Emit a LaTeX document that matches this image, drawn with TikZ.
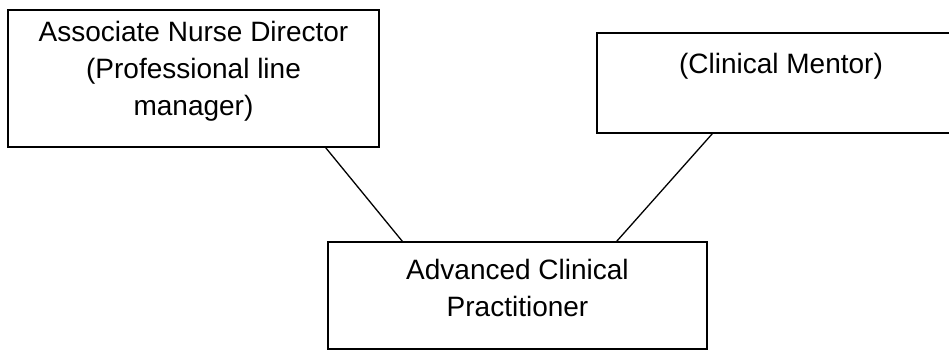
\documentclass[tikz,border=0pt]{standalone}
\usepackage{fontspec}
\setmainfont{Liberation Sans}
\usetikzlibrary{positioning}

\tikzset{
	box/.style={draw,line width=1.3pt,rectangle,inner sep=0pt},
	boxtext/.style={anchor=north,inner sep=0pt,align=center,
		font=\fontsize{28}{37}\selectfont}
}

\begin{document}
\begin{tikzpicture}[x=1pt,y=-1pt,line width=1.3pt]
\clip[use as bounding box] (0,0) rectangle (949,352);

% the three boxes
\node[box,minimum width=371pt,minimum height=137pt] (mgr) at (193.5,78.5) {};
\node[box,minimum width=368pt,minimum height=100pt] (mentor) at (781,83) {};
\node[box,minimum width=379pt,minimum height=107pt] (acp) at (517.5,295.5) {};

\node[boxtext] (mgrtxt) at ([yshift=-11pt]mgr.north)
	{Associate Nurse Director\\(Professional line\\manager)};
\node[boxtext] (mentortxt) at ([yshift=-20.5pt]mentor.north) {(Clinical Mentor)};
\node[boxtext] (acptxt) at ([yshift=-17.6pt]acp.north)
	{Advanced Clinical\\Practitioner};

% links to the practitioner
\draw ([xshift=-54pt]mgr.south east)--([xshift=75pt]acp.north west);
\draw ([xshift=116pt]mentor.south west)--([xshift=-91pt]acp.north east);

\end{tikzpicture}
\end{document}
